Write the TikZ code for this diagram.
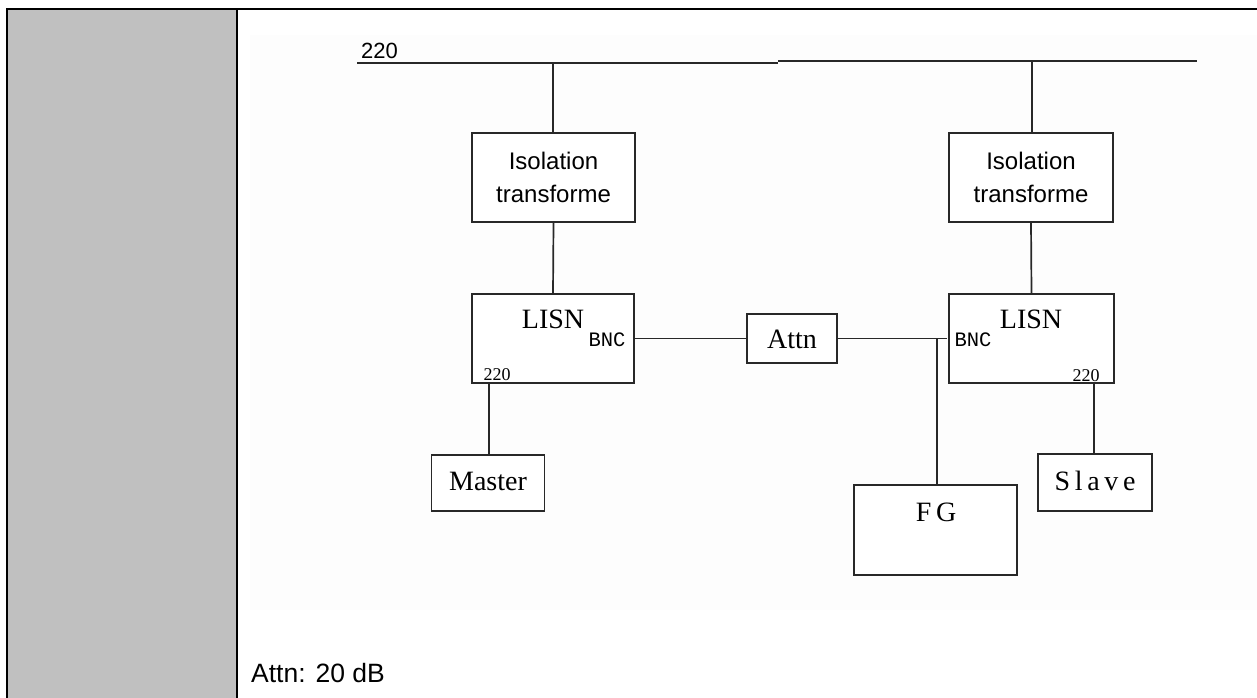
\documentclass[tikz,border=0pt]{standalone}
\usepackage{fontspec}
\setmainfont{Liberation Serif}
\newfontfamily\arialf{Liberation Sans}
\newfontfamily\monof{Liberation Mono}
\definecolor{cellgray}{RGB}{192,192,192}
\definecolor{panel}{RGB}{253,253,253}
\definecolor{ink}{RGB}{40,40,40}
\tikzset{
  wire/.style={draw=ink, line width=1.7pt},
  box/.style={draw=ink, line width=1.7pt, fill=white, inner sep=0pt},
  sanslbl/.style={font=\arialf\fontsize{24}{33}\selectfont, align=center, text=black},
  seriflbl/.style={font=\fontsize{28}{30}\selectfont, inner sep=0pt, anchor=base, text=black},
  smallmono/.style={font=\monof\fontsize{20.5}{22}\selectfont, inner sep=0pt, anchor=base, text=black},
  smallserif/.style={font=\fontsize{18}{20}\selectfont, inner sep=0pt, anchor=base, text=black},
  frame/.style={draw=black, line width=2.6pt}
}
\begin{document}
\begin{tikzpicture}[x=1pt,y=-1pt]
\useasboundingbox (0,0) rectangle (1257,698);
% table frame
\fill[cellgray] (7,9) rectangle (237,700);
\fill[panel] (250,35) rectangle (1257,610);
\draw[frame] (7,700) -- (7,9) -- (1257,9);
\draw[frame] (237,9) -- (237,700);

% bus
\coordinate (busL) at (357,63);
\coordinate (busM) at (778,63);
\coordinate (busM2) at (778,61);
\coordinate (busR) at (1197,61);
\draw[wire] (busL) -- (busM);
\draw[wire] (busM2) -- (busR);
\node[font=\arialf\fontsize{22}{24}\selectfont, inner sep=0pt, anchor=base west] (v220) at (361,59) {220};

% boxes
\node[box, minimum width=163pt, minimum height=89pt] (isoL) at (553.5,177.5) {};
\node[sanslbl] (isoLt) at (553.5,177.5) {Isolation\\transforme};
\node[box, minimum width=164pt, minimum height=89pt] (isoR) at (1031,177.5) {};
\node[sanslbl] (isoRt) at (1031,177.5) {Isolation\\transforme};

\node[box, minimum width=162pt, minimum height=89pt] (lisnL) at (553,338.5) {};
\node[seriflbl] (lisnLt) at (553,328) {LISN};
\node[smallmono] (bncL) at (607,346) {BNC};
\node[smallserif] (pL) at (497,380) {220};

\node[box, minimum width=165pt, minimum height=89pt] (lisnR) at (1031.5,338.5) {};
\node[seriflbl] (lisnRt) at (1031,328) {LISN};
\node[smallmono] (bncR) at (973,346) {BNC};
\node[smallserif] (pR) at (1086,381) {220};

\node[box, minimum width=90pt, minimum height=49pt] (attn) at (792,338.5) {};
\node[seriflbl] (attnt) at (792,348) {Attn};

\node[box, minimum width=113pt, minimum height=56pt] (master) at (488,483) {};
\node[seriflbl] (mastert) at (488,490) {Master};

\node[box, minimum width=114pt, minimum height=57pt] (slave) at (1095,482.5) {};
\node[seriflbl] (slavet) at (1095,490) {S\,l\,a\,v\,e};

\node[box, minimum width=163pt, minimum height=90pt] (fg) at (935.5,530) {};
\node[seriflbl] (fgt) at (936,521) {F\,G};

% connectors
\coordinate (tapL) at (553,63);
\coordinate (tapR) at (1032,61);
\draw[wire] (tapL) -- (tapL |- isoL.north);
\draw[wire] (tapR) -- (tapR |- isoR.north);
\draw[wire] (isoL.south) -- (lisnL.north);
\draw[wire] (isoR.south) -- (lisnR.north);
\draw[wire] (lisnL.east) -- (attn.west);
\coordinate (bncEnd) at (947,338.5);
\draw[wire] (attn.east) -- (bncEnd);
\coordinate (junc) at (937,338.5);
\draw[wire] (junc) -- (junc |- fg.north);
\coordinate (dropL) at (489,383);
\draw[wire] (dropL) -- (dropL |- master.north);
\coordinate (dropR) at (1094,383);
\draw[wire] (dropR) -- (dropR |- slave.north);

% note
\node[font=\arialf\fontsize{26.5}{28}\selectfont, inner sep=0pt, anchor=base west] (note) at (251,682) {Attn: 20 dB};
\end{tikzpicture}
\end{document}
